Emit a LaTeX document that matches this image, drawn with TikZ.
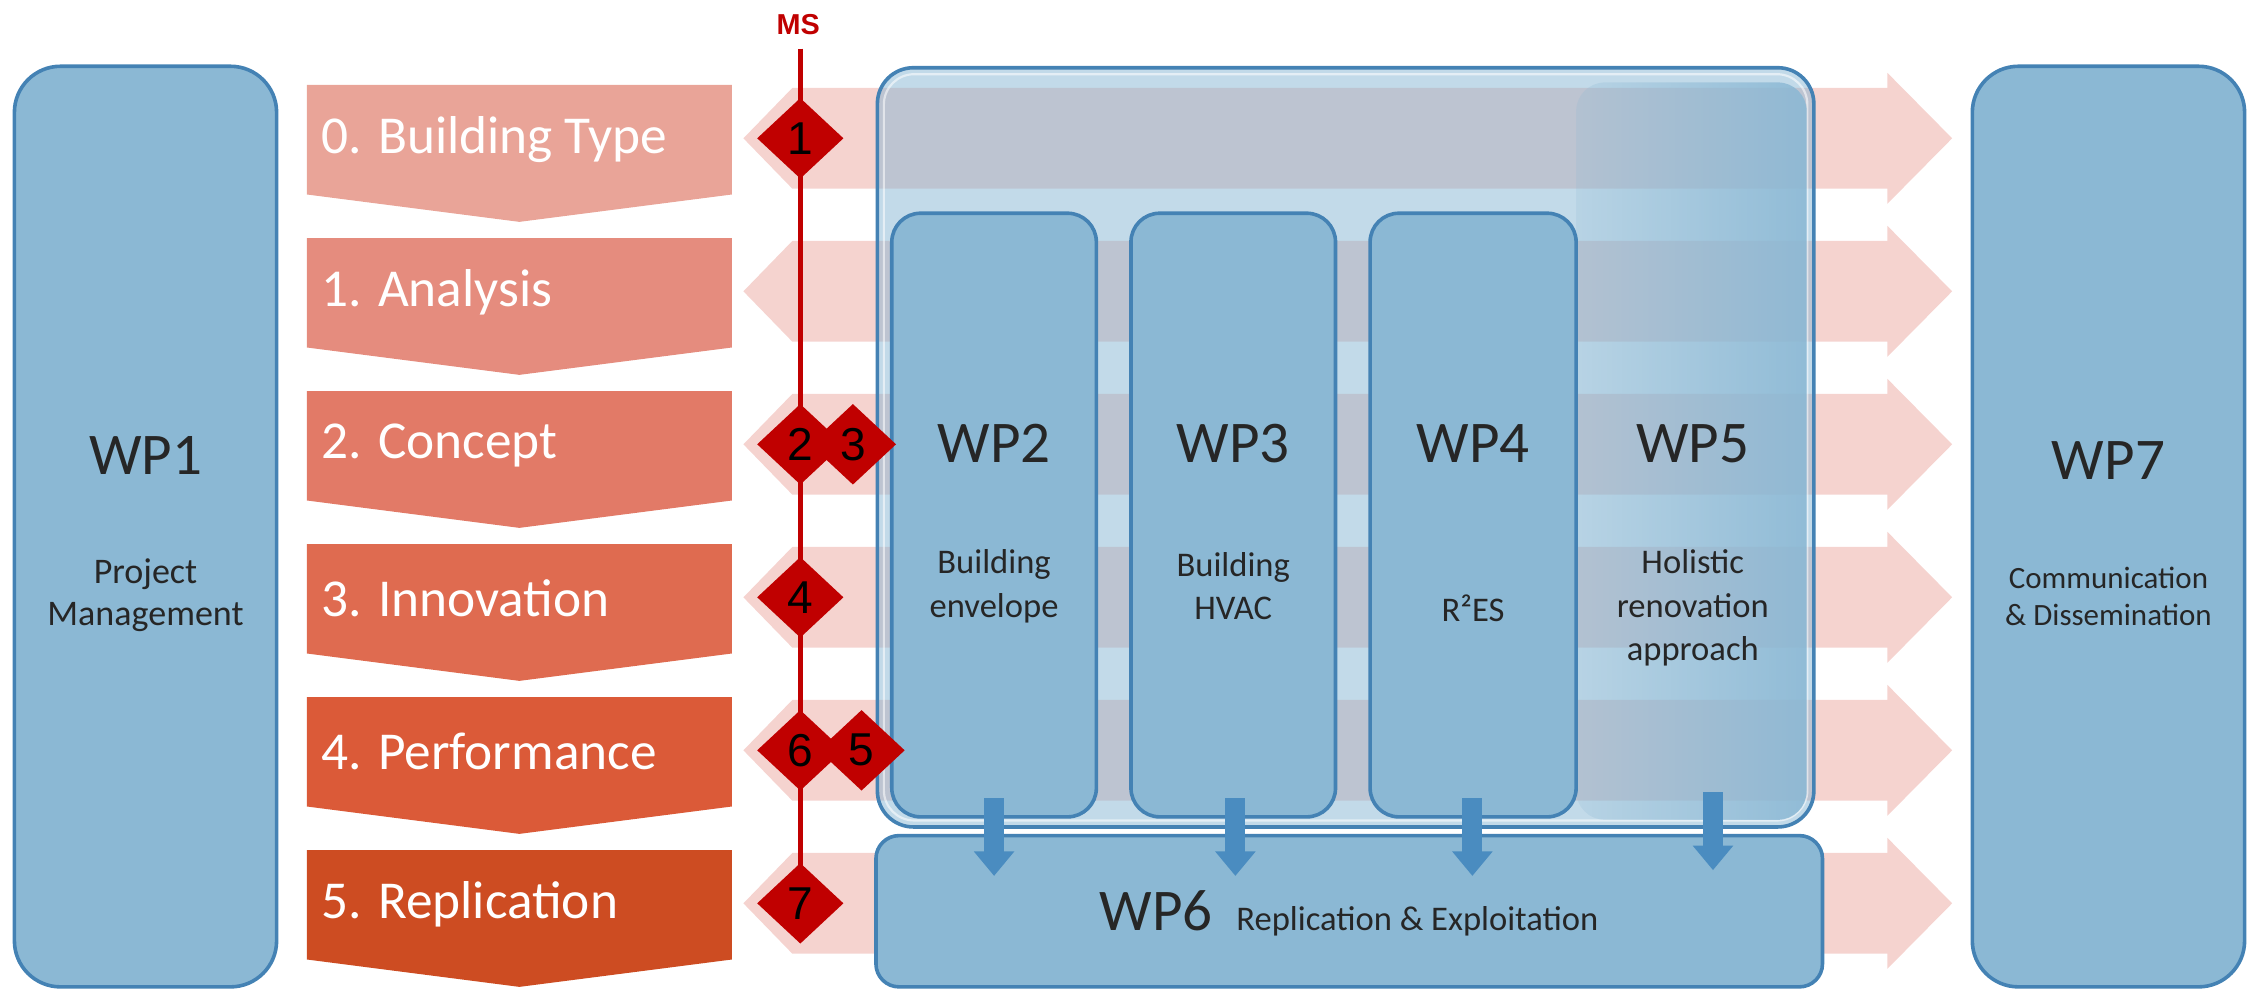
\documentclass[tikz,border=0pt]{standalone}
\usepackage{fontspec}
\setmainfont{Carlito}
\newfontfamily\arialf{Liberation Sans}
\usetikzlibrary{fadings,shapes.geometric,arrows.meta,calc}
\definecolor{wpfill}{HTML}{8BB8D4}
\definecolor{wpline}{HTML}{4482B4}
\definecolor{bandpink}{HTML}{F5D3CF}
\definecolor{msred}{HTML}{C00000}
\definecolor{arrblue}{HTML}{4A8CC0}
\definecolor{chev0}{RGB}{233,164,152}
\definecolor{chev1}{RGB}{229,140,126}
\definecolor{chev2}{RGB}{226,122,103}
\definecolor{chev3}{RGB}{223,107,80}
\definecolor{chev4}{RGB}{219,90,56}
\definecolor{chev5}{RGB}{205,76,34}
\tikzfading[name=wpfade, left color=transparent!80, right color=transparent!10]
\begin{document}
\begin{tikzpicture}[x=1pt,y=-1pt,
  wpbox/.style={draw=wpline, line width=2.5pt, fill=wpfill, inner sep=0pt, outer sep=0pt},
  wplabel/.style={font=\fontsize{41}{46}\selectfont, inner sep=0pt, text=black!85},
  wpsub/.style={font=\fontsize{24}{30}\selectfont, align=center, inner sep=0pt, text=black!85},
  stagetext/.style={font=\fontsize{37}{44}\selectfont, text=white, anchor=west, inner sep=0pt},
  msdia/.style={diamond, fill=msred, inner sep=0pt, minimum width=60pt, minimum height=56pt,
     font=\arialf\fontsize{32}{32}\selectfont, text=black},
  redline/.style={draw=msred, line width=3.5pt},
  downarrow/.style={draw=arrblue, line width=14pt, -{Triangle[width=27pt,length=17pt]}},
]
\useasboundingbox (0,0) rectangle (1568,687.2);

% pale pink row bands (double-ended)
\foreach \i in {0,...,5}{
  \pgfmathsetmacro\c{96+106.2*\i}
  \fill[bandpink] (516,\c) -- (550,\c-35) -- (1310,\c-35) -- (1310,\c-45.5) -- (1355,\c)
     -- (1310,\c+45.5) -- (1310,\c+35) -- (550,\c+35) -- cycle;
}

% big container of WP2-WP5
\node[draw=wpline, line width=2.5pt, fill=wpfill, fill opacity=0.52, rounded corners=25pt,
      minimum width=650pt, minimum height=527pt, inner sep=0pt] (cont) at (934,310.5) {};
\draw[white, opacity=0.55, line width=1.5pt, rounded corners=21pt] (613.5,51.5) rectangle (1254.5,569.5);
% WP5 soft area
\fill[wpfill, path fading=wpfade, rounded corners=20pt] (1094,57) rectangle (1254,569);

% WP2-WP4 boxes
\node[wpbox, rounded corners=20pt, minimum width=142pt, minimum height=419pt] (wp2) at (690,357.5) {};
\node[wpbox, rounded corners=20pt, minimum width=142pt, minimum height=419pt] (wp3) at (856,357.5) {};
\node[wpbox, rounded corners=20pt, minimum width=143pt, minimum height=419pt] (wp4) at (1022.5,357.5) {};
\coordinate (wp5) at (1189,357.5);

% WP6 box
\node[wpbox, rounded corners=16pt, minimum width=657pt, minimum height=105pt] (wp6) at (936.5,632.5) {};

% arrows into WP6
\draw[downarrow] ($(wp2.south)+(0,-13)$) -- ($(wp2.south |- wp6.north)+(0,28)$);
\draw[downarrow] ($(wp3.south)+(1.5,-13)$) -- ($(wp3.south |- wp6.north)+(1.5,28)$);
\draw[downarrow] ($(wp4.south)+(-0.5,-13)$) -- ($(wp4.south |- wp6.north)+(-0.5,28)$);
\draw[downarrow] ($(wp5 |- wp4.south)+(0,-17)$) -- ($(wp5 |- wp6.north)+(0,24)$);

% WP labels
\node[wplabel] (l2) at (690,308) {WP2};
\node[wplabel] (l3) at (856,308) {WP3};
\node[wplabel] (l4) at (1022.5,308) {WP4};
\node[wplabel] (l5) at (1175,308) {WP5};
\node[wpsub] (s2) at (690,407) {Building\\envelope};
\node[wpsub] (s3) at (856,407) {Building\\HVAC};
\node[wpsub] (s4) at (1022.5,422) {R²ES};
\node[wpsub] (s5) at (1175,422) {Holistic\\renovation\\approach};
\node[wplabel, anchor=base west] (l6) at (763,645.7) {WP6};
\node[wpsub, anchor=base west] (s6) at (858,645.7) {Replication \& Exploitation};

% WP1 and WP7
\node[wpbox, rounded corners=32pt, minimum width=182pt, minimum height=639pt] (wp1) at (101,365.5) {};
\node[wpbox, rounded corners=32pt, minimum width=189pt, minimum height=639pt] (wp7) at (1463.5,365.5) {};
\node[wplabel] (l1) at (101,316) {WP1};
\node[wplabel] (l7) at (1463.5,320) {WP7};
\node[wpsub, font=\fontsize{25}{29}\selectfont] (s1) at (101,413) {Project\\Management};
\node[wpsub, font=\fontsize{21.5}{26}\selectfont] (s7) at (1463.5,414) {Communication\\\& Dissemination};

% stage chevrons
\foreach \i/\t in {0/0. Building Type,1/1. Analysis,2/2. Concept,3/3. Innovation,4/4. Performance,5/5. Replication}{
  \pgfmathsetmacro\c{96+106.2*\i}
  \fill[chev\i] (213,\c-37) -- (508,\c-37) -- (508,\c+39) -- (360.5,\c+58) -- (213,\c+39) -- cycle;
  \node[stagetext] (st\i) at (223,\c+1) {\t};
}

% milestone line and diamonds
\node[font=\arialf\bfseries\fontsize{20}{20}\selectfont, text=msred, inner sep=0pt] (ms) at (554,17.4) {MS};
\coordinate (d7c) at (555.5,627);
\draw[redline] ($(ms.south)+(1.5,9)$) -- (d7c);
\node[msdia] (d1) at (555.5,96) {1};
\node[msdia] (d2) at (555.5,308.4) {2};
\node[msdia] (d3) at (592,308.4) {3};
\node[msdia] (d4) at (555.5,414.6) {4};
\node[msdia] (d6) at (555.5,520.8) {6};
\node[msdia] (d5) at (598,520.8) {5};
\node[msdia] (d7) at (d7c) {7};
\end{tikzpicture}
\end{document}
